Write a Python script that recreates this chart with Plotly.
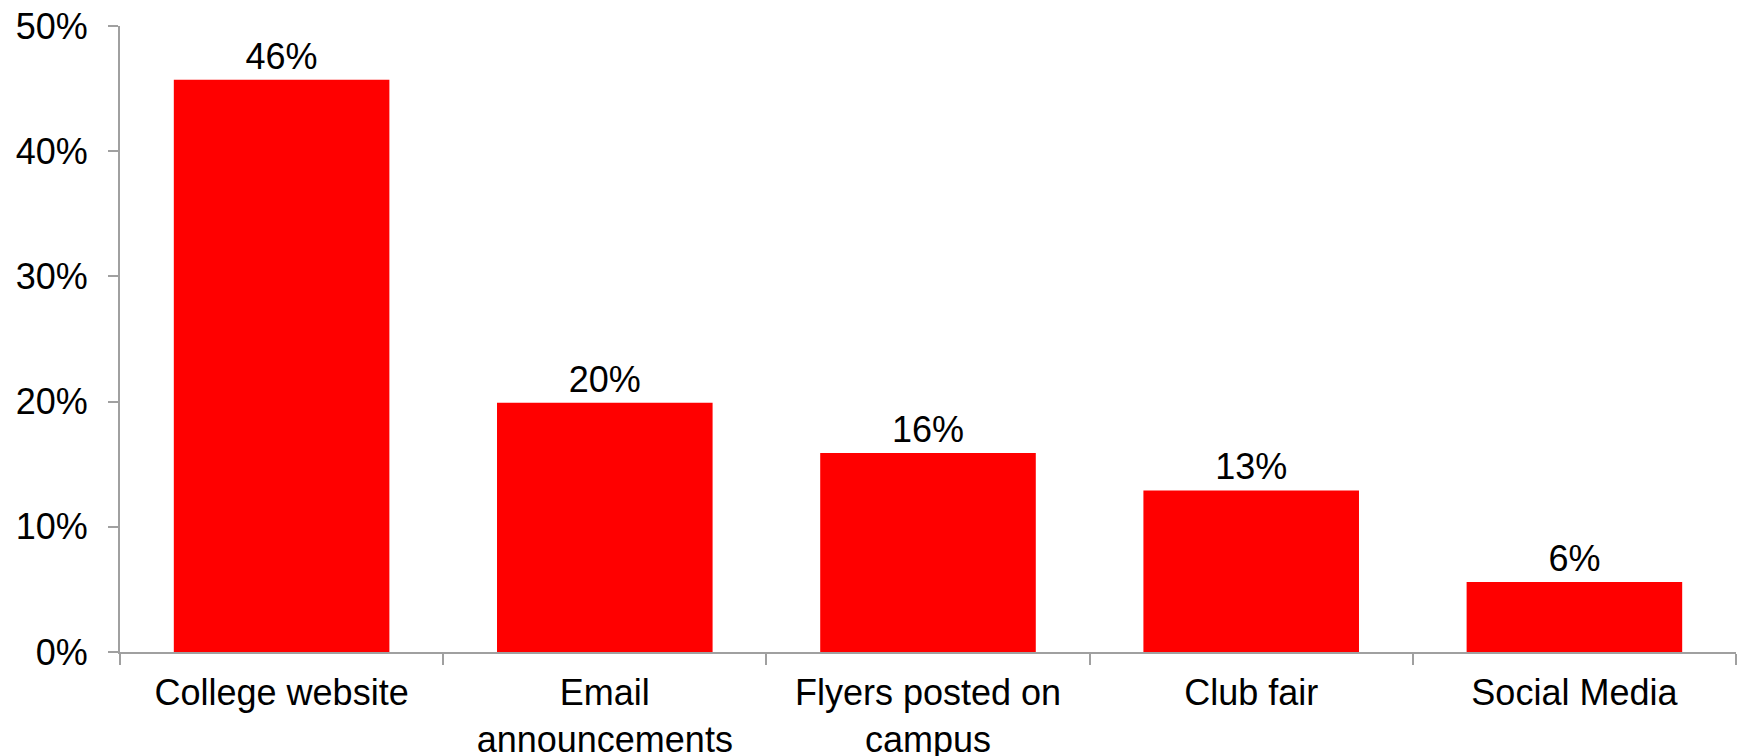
import plotly.graph_objects as go

categories = ["College website", "Email<br>announcements", "Flyers posted on<br>campus", "Club fair", "Social Media"]
values = [0.457, 0.199, 0.159, 0.129, 0.056]
y_ticks = [0, 0.1, 0.2, 0.3, 0.4, 0.5]

FONT = "Liberation Sans, Arial"

fig = go.Figure(go.Bar(
    x=categories, y=values,
    marker=dict(color="#ff0000", line=dict(width=0)),
    texttemplate="%{y:.0%}", textposition="outside",
    textfont=dict(family=FONT, size=36, color="black"),
    cliponaxis=False,
))

fig.update_layout(
    width=1738, height=756,
    margin=dict(l=120, r=2, t=26, b=104),
    plot_bgcolor="white", paper_bgcolor="white",
    bargap=0.333,
    showlegend=False,
    font=dict(family=FONT, size=36, color="black"),
)
fig.update_yaxes(
    range=[0, 0.5], tickvals=y_ticks, tickformat=".0%",
    showgrid=False, zeroline=False, automargin=False,
    showline=True, linecolor="#a0a0a0", linewidth=2,
    ticks="outside", ticklen=10, tickcolor="#a0a0a0", tickwidth=2,
    tickfont=dict(family=FONT, size=36, color="black"),
    ticklabelstandoff=13, ticklabeloverflow="allow",
)
fig.update_xaxes(
    showgrid=False, zeroline=False, automargin=False,
    showline=True, linecolor="#a0a0a0", linewidth=2,
    ticks="outside", ticklen=11, tickcolor="#a0a0a0", tickwidth=2,
    tickson="boundaries",
    tickfont=dict(family=FONT, size=36, color="black"),
    ticklabelstandoff=8, ticklabeloverflow="allow",
)

fig.write_html(
    "out.html",
    config={"displayModeBar": False},
    post_script="document.body.style.margin='0';",
)
